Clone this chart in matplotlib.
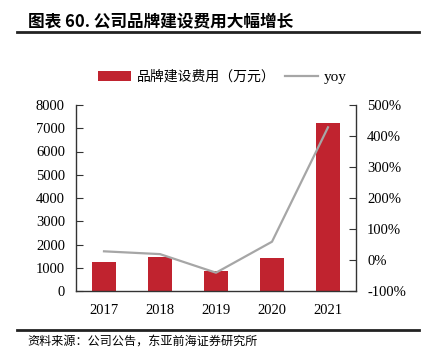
import matplotlib
matplotlib.use("Agg")
import matplotlib.pyplot as plt
from matplotlib.lines import Line2D

plt.rcParams['font.family'] = ['Noto Sans CJK SC', 'DejaVu Sans']

years = ['2017', '2018', '2019', '2020', '2021']
brand_cost = [1260, 1465, 880, 1400, 7240]   # 万元
yoy = [28, 19, -41, 59, 428]                  # %
left_ticks = [0, 1000, 2000, 3000, 4000, 5000, 6000, 7000, 8000]
right_ticks = [-100, 0, 100, 200, 300, 400, 500]

bar_color = '#C0232F'
line_color = '#A6A6A6'
serif = 'Liberation Serif'

fig = plt.figure(figsize=(4.23, 3.52), dpi=100)
ax = fig.add_axes([76/423, 1-291/352, 280/423, 186/352])
x = list(range(len(years)))
bars = ax.bar(x, brand_cost, width=0.44, color=bar_color, zorder=2)
ax.set_xlim(-0.5, 4.5)
ax.set_ylim(0, 8000)
ax.set_yticks(left_ticks)
ax.set_yticklabels([str(t) for t in left_ticks], fontfamily=serif, fontsize=10.5)
ax.set_xticks(x)
ax.set_xticklabels(years, fontfamily=serif, fontsize=10.5)
ax.tick_params(axis='x', length=0, pad=9)
ax.tick_params(axis='y', direction='in', length=5, pad=8, color='#333333')
for s in ['top', 'right']:
    ax.spines[s].set_visible(False)
for s in ['left', 'bottom']:
    ax.spines[s].set_color('#333333')
    ax.spines[s].set_linewidth(1.0)

ax2 = ax.twinx()
ln, = ax2.plot(x, yoy, color=line_color, linewidth=1.6, zorder=3)
ax2.set_ylim(-100, 500)
ax2.set_yticks(right_ticks)
ax2.set_yticklabels([f'{t}%' for t in right_ticks], fontfamily=serif, fontsize=10.5)
ax2.tick_params(axis='y', direction='in', length=5, pad=8, color='#333333')
for s in ['top', 'left', 'bottom']:
    ax2.spines[s].set_visible(False)
ax2.spines['right'].set_color('#333333')
ax2.spines['right'].set_linewidth(1.0)

leg_line = Line2D([], [], color=line_color, linewidth=1.6)
leg = fig.legend([bars, leg_line], ['品牌建设费用（万元）', 'yoy'], ncol=2,
                 loc='center left', bbox_to_anchor=(92/423, 1-77/352),
                 frameon=False, fontsize=10, handlelength=2.4, handleheight=0.7,
                 handletextpad=0.4, columnspacing=0.7, borderaxespad=0)
for t in leg.get_texts():
    if t.get_text() == 'yoy':
        t.set_fontfamily(serif)
        t.set_fontsize(11)

fig.text(28/423, 1-21/352, '图表 60. 公司品牌建设费用大幅增长', fontsize=12,
         fontweight='bold', va='center', ha='left')
fig.add_artist(Line2D([17/423, 419/423], [1-32/352, 1-32/352], color='#222222',
                      linewidth=2.0, transform=fig.transFigure))
fig.add_artist(Line2D([17/423, 419/423], [1-330/352, 1-330/352], color='#222222',
                      linewidth=2.0, transform=fig.transFigure))
fig.text(27/423, 1-341/352, '资料来源：公司公告，东亚前海证券研究所', fontsize=8.7,
         va='center', ha='left')

fig.savefig('out.png', dpi=100)
